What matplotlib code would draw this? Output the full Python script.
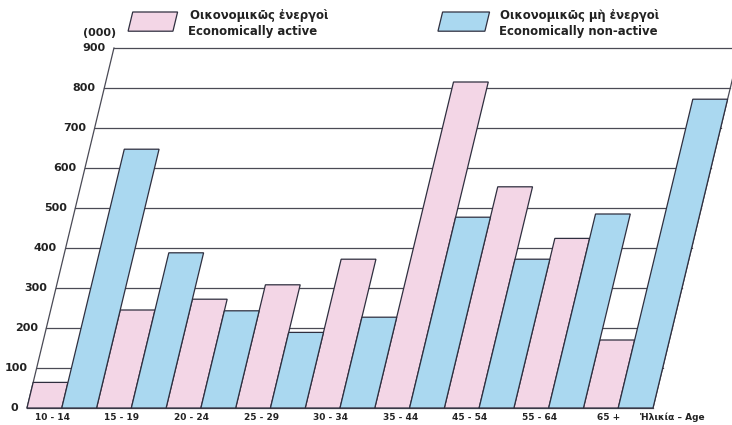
import numpy as np
import matplotlib
matplotlib.use("Agg")
import matplotlib.pyplot as plt
from matplotlib.transforms import Affine2D
from matplotlib.patches import Rectangle

# data (thousands)
ages = ["10 - 14", "15 - 19", "20 - 24", "25 - 29", "30 - 34",
        "35 - 44", "45 - 54", "55 - 64", "65 +"]
active = [64, 245, 272, 308, 372, 815, 553, 424, 170]
non_active = [647, 388, 243, 189, 227, 477, 372, 485, 772]
yticks = list(range(0, 1000, 100))

pink = "#f3d6e6"
blue = "#aad8f0"
edge = "#2f2f3f"
txt = "#222222"

W, H = 732, 425
fig = plt.figure(figsize=(W / 100, H / 100), dpi=100)
fig.patch.set_facecolor("white")

x0, x1, y0, y1 = 27, 653, 408, 48
ax = fig.add_axes([x0 / W, (H - y0) / H, (x1 - x0) / W, (y0 - y1) / H])
n = len(ages)
ax.set_xlim(0, 2 * n)
ax.set_ylim(0, 900)
ax.axis("off")

# shear so the whole chart leans right
k = 2.5 / 900
shear = Affine2D(np.array([[1, k, 0], [0, 1, 0], [0, 0, 1]], dtype=float))
tr = shear + ax.transData

idx = np.arange(n)
b1 = ax.bar(2 * idx, active, width=1, align="edge", color=pink,
            edgecolor=edge, linewidth=0.9, zorder=3)
b2 = ax.bar(2 * idx + 1, non_active, width=1, align="edge", color=blue,
            edgecolor=edge, linewidth=0.9, zorder=3)
for p in list(b1) + list(b2):
    p.set_transform(tr)
    p.set_clip_on(False)

# grid lines and frame
for v in yticks:
    ax.plot([0, 2 * n], [v, v], color="#4a4a55", lw=0.9, transform=tr,
            clip_on=False, zorder=1)
    ax.text(-0.25, v, str(v), transform=tr, ha="right", va="center",
            fontsize=8, fontweight="bold", color=txt)
ax.plot([0, 0], [0, 900], color="#4a4a55", lw=0.9, transform=tr, clip_on=False, zorder=1)
ax.plot([2 * n, 2 * n], [0, 900], color="#4a4a55", lw=0.9, transform=tr, clip_on=False, zorder=1)
ax.text(-0.53, 937, "(000)", transform=tr, ha="center", va="center",
        fontsize=8, fontweight="bold", color=txt)

# x labels
for i, lab in enumerate(ages):
    ax.text(2 * i + 0.8, -24, lab, transform=tr, ha="center", va="center",
            fontsize=6.5, fontweight="bold", color=txt)
ax.text(17.7, -24, "Ἡλικία – Age", transform=tr, ha="left", va="center",
        fontsize=6.5, fontweight="bold", color=txt)

# legend
ax.add_patch(Rectangle((0.29, 942), 1.29, 48, facecolor=pink, edgecolor=edge,
                       lw=0.9, transform=tr, clip_on=False))
ax.add_patch(Rectangle((9.2, 942), 1.35, 48, facecolor=blue, edgecolor=edge,
                       lw=0.9, transform=tr, clip_on=False))
fig.text(190 / W, 1 - 16 / H, "Οικονομικῶς ἐνεργοὶ", fontsize=8.4,
         fontweight="bold", color=txt, va="center")
fig.text(188 / W, 1 - 32 / H, "Economically active", fontsize=8.4,
         fontweight="bold", color=txt, va="center")
fig.text(500 / W, 1 - 16 / H, "Οικονομικῶς μὴ ἐνεργοὶ", fontsize=8.4,
         fontweight="bold", color=txt, va="center")
fig.text(499 / W, 1 - 32 / H, "Economically non-active", fontsize=8.4,
         fontweight="bold", color=txt, va="center")

fig.savefig("out.png", dpi=100)
